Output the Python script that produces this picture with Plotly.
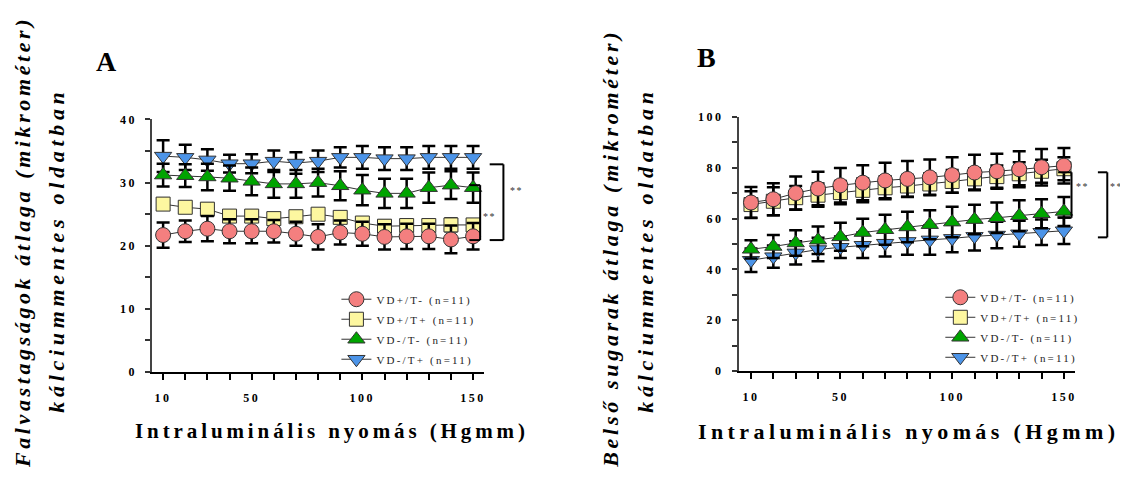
import plotly.graph_objects as go

pressure = [10, 20, 30, 40, 50, 60, 70, 80, 90, 100, 110, 120, 130, 140, 150]
x_tick_labels = ["10", "", "", "", "50", "", "", "", "", "100", "", "", "", "", "150"]

series_names = ["VD+/T- (n=11)", "VD+/T+ (n=11)", "VD-/T- (n=11)", "VD-/T+ (n=11)"]

# Panel A: wall thickness (micrometre)
a_vdp_tm = [21.7, 22.3, 22.7, 22.3, 22.3, 22.3, 21.9, 21.4, 22.1, 21.9, 21.4, 21.5, 21.5, 21.0, 21.5]
a_vdp_tm_sd = [2.0, 1.7, 2.0, 1.9, 1.9, 1.8, 1.9, 2.0, 1.9, 1.9, 2.0, 2.0, 2.0, 2.2, 2.1]
a_vdp_tp = [26.6, 26.1, 25.8, 24.7, 24.7, 24.3, 24.6, 25.0, 24.5, 23.6, 23.1, 23.2, 23.2, 23.3, 23.3]
a_vdp_tp_sd = [0.9, 0.8, 0.9, 0.8, 0.9, 0.8, 0.8, 0.8, 0.8, 0.9, 0.9, 0.9, 0.9, 1.0, 0.9]
a_vdm_tm = [31.2, 31.1, 30.9, 30.7, 30.2, 29.8, 29.8, 30.0, 29.5, 28.8, 28.3, 28.3, 29.2, 29.6, 29.2]
a_vdm_tm_sd = [1.8, 1.8, 2.1, 2.0, 2.2, 2.2, 2.2, 2.2, 2.3, 2.4, 2.3, 2.3, 2.4, 2.2, 2.4]
a_vdm_tp = [34.2, 34.0, 33.6, 33.0, 33.0, 33.4, 33.1, 33.4, 34.0, 34.0, 33.8, 33.8, 34.0, 34.0, 34.0]
a_vdm_tp_sd = [2.5, 2.0, 1.7, 1.4, 1.5, 1.7, 1.7, 1.7, 1.6, 1.8, 1.8, 1.8, 1.8, 1.8, 1.8]

# Panel B: inner radius (micrometre)
b_vdp_tm = [66.3, 67.6, 70.0, 71.8, 73.1, 74.1, 75.0, 75.6, 76.2, 77.1, 78.1, 78.6, 79.4, 80.2, 80.8]
b_vdp_tm_sd = [6.1, 6.3, 6.5, 6.6, 6.8, 6.9, 7.0, 7.0, 7.0, 7.0, 7.0, 6.9, 7.1, 7.2, 7.0]
b_vdp_tp = [65.5, 66.8, 68.2, 69.2, 70.2, 71.1, 72.1, 72.8, 73.6, 74.6, 75.6, 76.5, 77.6, 78.6, 79.6]
b_vdp_tp_sd = [5.2, 5.5, 4.6, 4.6, 4.6, 4.7, 4.5, 4.3, 4.2, 4.5, 4.2, 4.4, 4.5, 4.5, 4.5]
b_vdm_tm = [47.9, 49.0, 50.4, 51.5, 52.8, 54.5, 55.6, 56.7, 57.6, 58.6, 59.6, 60.3, 61.1, 61.9, 62.8]
b_vdm_tm_sd = [3.6, 4.5, 5.0, 5.4, 5.5, 5.4, 5.9, 6.0, 5.7, 6.0, 5.8, 6.0, 6.1, 5.7, 5.7]
b_vdm_tp = [43.6, 45.0, 46.5, 47.8, 48.7, 49.5, 50.3, 51.0, 51.6, 52.2, 53.0, 53.5, 54.0, 54.6, 55.2]
b_vdm_tp_sd = [4.6, 4.4, 4.6, 4.6, 4.2, 5.0, 5.2, 5.2, 5.8, 5.5, 5.6, 5.2, 5.1, 5.0, 5.2]

# significance brackets: (x_vertical, x_arm_start, y_top, y_bottom, label_x, label_y)
a_brackets = [(153.2, 148.3, 29.6, 20.9, 157.5, 24.6), (163.7, 157.5, 32.9, 20.9, 169.7, 28.7)]
b_brackets = [(153.4, 147.4, 78.2, 60.3, 158.5, 72.5), (169.4, 165.2, 78.2, 52.6, 173.5, 72.5)]

# page has an 8px body margin: figure is 1120x470 placed at (8,8)
OFF = 8
W, H = 1120, 470
SERIF = "Liberation Serif, Times New Roman, serif"


def px(x):
    return (x - OFF) / W


def py(y):
    return 1 - (y - OFF) / H


styles = [
    dict(symbol="circle", color="#F47F7F", size=15),
    dict(symbol="square", color="#FDF7A0", size=14),
    dict(symbol="triangle-up", color="#00A400", size=15),
    dict(symbol="triangle-down", color="#4C94E8", size=15),
]


def sp(text, ls):
    return f"<span style='letter-spacing:{ls}px'>{text}</span>"


fig = go.Figure()

panels = [
    dict(xa="x", ya="y", legend="legend",
         data=[(a_vdp_tm, a_vdp_tm_sd), (a_vdp_tp, a_vdp_tp_sd), (a_vdm_tm, a_vdm_tm_sd), (a_vdm_tp, a_vdm_tp_sd)]),
    dict(xa="x2", ya="y2", legend="legend2",
         data=[(b_vdp_tm, b_vdp_tm_sd), (b_vdp_tp, b_vdp_tp_sd), (b_vdm_tm, b_vdm_tm_sd), (b_vdm_tp, b_vdm_tp_sd)]),
]

for p in panels:
    for i in reversed(range(4)):
        vals, sd = p["data"][i]
        st = styles[i]
        fig.add_trace(go.Scatter(
            x=pressure, y=vals, mode="lines+markers",
            name=sp(series_names[i], 2.2),
            xaxis=p["xa"], yaxis=p["ya"], legend=p["legend"],
            legendgroup=p["legend"] + str(i), legendrank=i + 1,
            line=dict(color="#333333", width=1),
            marker=dict(symbol=st["symbol"], color=st["color"], size=st["size"],
                        line=dict(color="#333333", width=1)),
            error_y=dict(type="data", array=sd, visible=True, color="black",
                         thickness=2.5, width=6.5),
            cliponaxis=False,
        ))

xdomA = [px(152.3), px(485)]
xdomB = [px(740), px(1077)]
ydomA = [py(376), py(115.7)]
ydomB = [py(375), py(113)]
xrA = [5, 155]
xrB = [4.5, 155]

tick_font = dict(family=SERIF, size=12, color="black")


def xaxis(dom, rng, anchor):
    return dict(domain=dom, range=rng, anchor=anchor,
                tickmode="array", tickvals=pressure,
                ticktext=[f"<b>{sp(t, 2.5)}</b>" if t else "" for t in x_tick_labels],
                ticks="outside", ticklen=6, tickwidth=1.5, tickcolor="black",
                showline=True, linecolor="black", linewidth=2,
                showgrid=False, zeroline=False, tickfont=tick_font,
                ticklabelstandoff=8)


def yaxis(dom, vals, labels, anchor):
    return dict(domain=dom, range=[0, vals[-1]], anchor=anchor,
                tickmode="array", tickvals=vals,
                ticktext=[f"<b>{sp(t, 2.5)}</b>" if t else "" for t in labels],
                ticks="outside", ticklen=5, tickwidth=1.5, tickcolor="#333333",
                showline=True, linecolor="#444444", linewidth=1.5,
                showgrid=False, zeroline=False, tickfont=tick_font,
                ticklabelstandoff=6)


a_y_vals = [0, 5, 10, 15, 20, 25, 30, 35, 40]
a_y_labels = ["0", "", "10", "", "20", "", "30", "", "40"]
b_y_vals = [0, 10, 20, 30, 40, 50, 60, 70, 80, 90, 100]
b_y_labels = ["0", "", "20", "", "40", "", "60", "", "80", "", "100"]

legend_common = dict(font=dict(family=SERIF, size=11, color="#222222"),
                     bgcolor="rgba(0,0,0,0)", borderwidth=0,
                     traceorder="grouped", tracegroupgap=1,
                     xanchor="left", yanchor="top", itemwidth=30)

fig.update_layout(
    width=W, height=H, margin=dict(l=0, r=0, t=0, b=0),
    paper_bgcolor="white", plot_bgcolor="white",
    xaxis=xaxis(xdomA, xrA, "y"),
    yaxis=yaxis(ydomA, a_y_vals, a_y_labels, "x"),
    xaxis2=xaxis(xdomB, xrB, "y2"),
    yaxis2=yaxis(ydomB, b_y_vals, b_y_labels, "x2"),
    legend=dict(x=px(337), y=py(286), **legend_common),
    legend2=dict(x=px(942), y=py(284), **legend_common),
    showlegend=True,
)


def xp(xv, dom, rng):
    return dom[0] + (xv - rng[0]) / (rng[1] - rng[0]) * (dom[1] - dom[0])


shapes = []
annotations = []
for brs, dom, rng, ymax, yref in [(a_brackets, xdomA, xrA, 40, "y domain"), (b_brackets, xdomB, xrB, 100, "y2 domain")]:
    for xv, xa0, yt, yb, lx, ly in brs:
        x1 = xp(xv, dom, rng)
        x0 = xp(xa0, dom, rng)
        for (sx0, sx1, sy0, sy1) in [(x0, x1, yt, yt), (x1, x1, yt, yb), (x0, x1, yb, yb)]:
            shapes.append(dict(type="line", xref="paper", yref=yref, x0=sx0, x1=sx1,
                               y0=sy0 / ymax, y1=sy1 / ymax, line=dict(color="black", width=2)))
        annotations.append(dict(text=sp("**", 1.5), xref="paper", yref=yref, x=xp(lx, dom, rng), y=ly / ymax,
                                xanchor="center", yanchor="middle",
                                showarrow=False, font=dict(family=SERIF, size=10, color="#333333")))


def ann(text, x, y, size, angle=0):
    return dict(text=text, x=px(x), y=py(y), xref="paper", yref="paper", showarrow=False,
                xanchor="center", yanchor="middle", textangle=angle,
                font=dict(family=SERIF, size=size, color="black"))


xt = "Intraluminális nyomás (Hgmm)"
annotations += [
    ann("<b>A</b>", 107, 56, 28),
    ann("<b>B</b>", 708, 52, 28),
    ann("<b>" + sp(xt, 3.9) + "</b>", 333, 437, 21),
    ann("<b>" + sp(xt, 4.4) + "</b>", 910, 437, 22),
    ann("<b><i>" + sp("Falvastagságok átlaga (mikrométer)", 3.6) + "</i></b>", 22, 242, 22, -90),
    ann("<b><i>" + sp("kálciummentes oldatban", 4.7) + "</i></b>", 57, 250, 22, -90),
    ann("<b><i>" + sp("Belső sugarak átlaga (mikrométer)", 3.7) + "</i></b>", 612, 248, 22, -90),
    ann("<b><i>" + sp("kálciummentes oldatban", 4.7) + "</i></b>", 647, 250, 22, -90),
]

fig.update_layout(shapes=shapes, annotations=annotations)
fig.write_html("out.html")
